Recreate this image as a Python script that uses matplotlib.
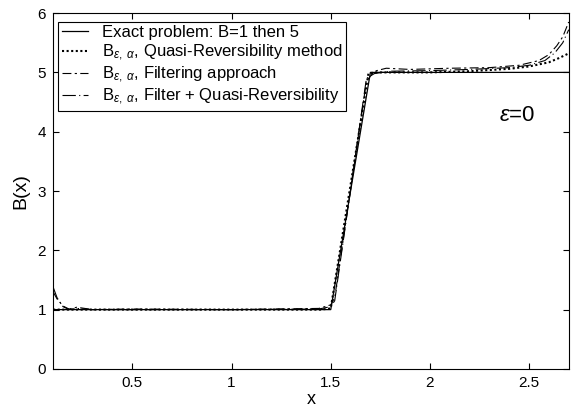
import matplotlib.pyplot as plt

plt.rcParams['font.family'] = ['Liberation Sans', 'DejaVu Sans']
plt.rcParams['mathtext.fontset'] = 'custom'
plt.rcParams['mathtext.rm'] = 'Liberation Sans'
plt.rcParams['mathtext.it'] = 'Liberation Sans:italic'

# ================== DATA ==================
x_exact = [0.1, 1.5, 1.7, 2.7]
b_exact = [1.0, 1.0, 5.0, 5.0]

x_qr = [0.1, 0.15, 0.2, 0.5, 1.0, 1.45, 1.5, 1.69, 1.72, 1.8, 2.0, 2.2, 2.4, 2.5, 2.6, 2.65, 2.7]
b_qr = [1.0, 1.0, 1.0, 1.0, 1.0, 1.0, 1.02, 4.98, 5.0, 5.0, 5.0, 5.02, 5.06, 5.1, 5.17, 5.24, 5.32]

x_filt = [0.1, 0.12, 0.15, 0.18, 0.22, 0.3, 0.5, 1.0, 1.44, 1.5, 1.52, 1.68, 1.72, 1.78, 1.9, 2.1, 2.3, 2.45, 2.55, 2.6, 2.64, 2.67, 2.7]
b_filt = [1.3, 1.18, 1.06, 1.01, 1.04, 1.0, 1.01, 1.0, 1.02, 1.08, 1.2, 4.85, 5.02, 5.07, 5.05, 5.07, 5.08, 5.12, 5.2, 5.3, 5.45, 5.6, 5.85]

x_fqr = [0.1, 0.12, 0.15, 0.18, 0.22, 0.3, 0.5, 1.0, 1.44, 1.5, 1.52, 1.68, 1.72, 1.8, 2.0, 2.2, 2.4, 2.5, 2.58, 2.63, 2.67, 2.7]
b_fqr = [1.38, 1.2, 1.05, 1.0, 1.02, 1.0, 1.0, 1.0, 1.01, 1.05, 1.15, 4.9, 4.98, 5.02, 5.03, 5.05, 5.08, 5.12, 5.2, 5.33, 5.5, 5.72]

labels = [
    'Exact problem: B=1 then 5',
    r'B$_{\varepsilon,\ \alpha}$, Quasi-Reversibility method',
    r'B$_{\varepsilon,\ \alpha}$, Filtering approach',
    r'B$_{\varepsilon,\ \alpha}$, Filter + Quasi-Reversibility',
]

# ================== PLOT ==================
fig = plt.figure(figsize=(5.71, 4.09), dpi=100)
ax = fig.add_axes([0.093, 0.098, 0.903, 0.870])

ax.plot(x_exact, b_exact, color='black', lw=0.9, label=labels[0])
ax.plot(x_qr, b_qr, color='black', lw=1.5, ls=(0, (1, 1.2)), label=labels[1])
ax.plot(x_filt, b_filt, color='black', lw=0.8, ls=(0, (8, 3, 2, 3)), label=labels[2])
ax.plot(x_fqr, b_fqr, color='black', lw=0.8, ls=(0, (12, 3, 1, 3)), label=labels[3])

ax.set_xlim(0.1, 2.7)
ax.set_ylim(0, 6)
ax.set_xticks([0.5, 1, 1.5, 2, 2.5])
ax.set_xticklabels(['0.5', '1', '1.5', '2', '2.5'])
ax.set_yticks([0, 1, 2, 3, 4, 5, 6])
ax.tick_params(direction='in', labelsize=11, top=True, right=True, length=4, pad=5)
ax.set_xlabel('x', fontsize=13, labelpad=1)
ax.set_ylabel('B(x)', fontsize=14, labelpad=6)

ax.text(2.35, 4.18, r'$\varepsilon$=0', fontsize=16)

leg = ax.legend(loc='upper left', bbox_to_anchor=(0.01, 0.975), fontsize=12,
                frameon=True, fancybox=False, edgecolor='black', framealpha=1,
                handlelength=1.6, labelspacing=0.12, borderpad=0.2, handletextpad=0.8,
                borderaxespad=0)
leg.get_frame().set_linewidth(0.8)

fig.savefig('out.png', dpi=100)
